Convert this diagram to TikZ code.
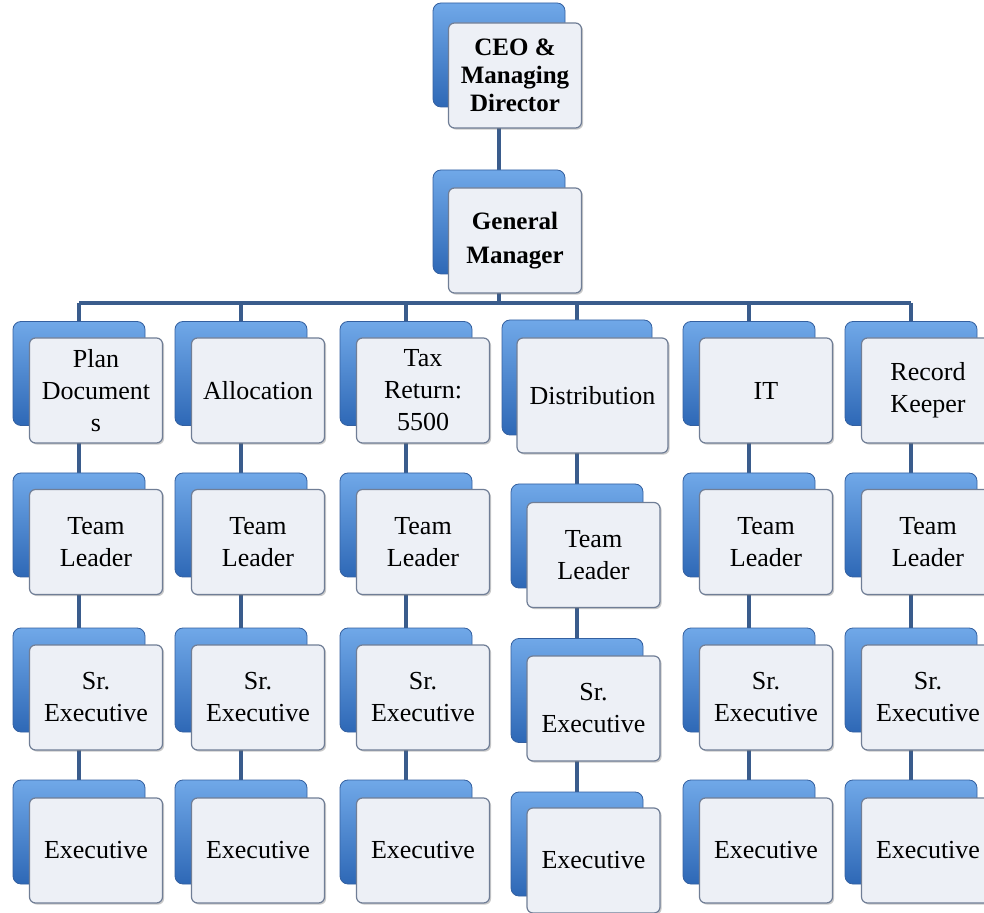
\documentclass[tikz,border=0pt]{standalone}
\usepackage{fontspec}
\setmainfont{Liberation Serif}
\usetikzlibrary{backgrounds,shadows}
\definecolor{boxtop}{RGB}{112,168,232}
\definecolor{boxbot}{RGB}{46,104,182}
\definecolor{boxedge}{RGB}{52,96,160}
\definecolor{cardfill}{RGB}{237,240,246}
\definecolor{cardedge}{RGB}{112,126,150}
\definecolor{linkblue}{RGB}{58,92,140}
\begin{document}
\begin{tikzpicture}[x=0.5pt,y=-0.5pt,
  back/.style={draw=boxedge,line width=0.4pt,top color=boxtop,bottom color=boxbot,
    rounded corners=4pt,minimum width=66pt,minimum height=52pt,inner sep=0pt},
  card/.style={draw=cardedge,line width=0.6pt,fill=cardfill,rounded corners=3pt,
    minimum width=66.5pt,minimum height=52.5pt,inner sep=0pt,align=center,
    font=\fontsize{13}{16}\selectfont,
    drop shadow={shadow xshift=0.8pt,shadow yshift=-0.8pt,opacity=0.35,fill=black!60}},
  boss/.style={font=\bfseries\fontsize{12.5}{14}\selectfont},
  link/.style={draw=linkblue,line width=1.7pt}]
\useasboundingbox (0,0) rectangle (984,913);
% top of the chart
\node[back] (ceob) at (499,55) {};
\node[card,boss] (ceo) at (515,75.5) {CEO \&\\Managing\\Director};
\node[back] (gmb) at (499,222) {};
\node[card,boss,font=\bfseries\fontsize{12.5}{17}\selectfont] (gm) at (515,240.5) {General\\Manager};
% departments
\foreach \c/\x/\t in {plan/79/{Plan\\Document\\s},alloc/241/{Allocation},tax/406/{Tax\\Return:\\5500},it/749/{IT},rec/911/{Record\\Keeper}} {
  \node[back] (\c1b) at (\x,373.5) {};
  \node[card] (\c1) at (\x+17,390.5) {\t};
  \node[back] (\c2b) at (\x,525) {};
  \node[card] (\c2) at (\x+17,542) {Team\\Leader};
  \node[back] (\c3b) at (\x,680) {};
  \node[card] (\c3) at (\x+17,697.5) {Sr.\\Executive};
  \node[back] (\c4b) at (\x,832) {};
  \node[card] (\c4) at (\x+17,850.5) {Executive};
}
\node[back,minimum width=75pt,minimum height=57.5pt] (dist1b) at (577,377.5) {};
\node[card,minimum width=75.5pt,minimum height=57.5pt] (dist1) at (592.5,395.5) {Distribution};
\node[back] (dist2b) at (577,536) {};
\node[card] (dist2) at (593.5,555) {Team\\Leader};
\node[back] (dist3b) at (577,690.5) {};
\node[card] (dist3) at (593.5,708.5) {Sr.\\Executive};
\node[back] (dist4b) at (577,844) {};
\node[card] (dist4) at (593.5,860.5) {Executive};
% lines
\begin{scope}[on background layer]
\fill[white] (0,0) rectangle (984,913);
\coordinate (bus) at (0,303);
\draw[link] (ceob.center) -- (gmb.center);
\draw[link,line width=2.2pt] (gmb.center) -- (gmb.center |- bus);
\draw[link,line width=2.2pt] (plan1b.center |- bus) -- (rec1b.center |- bus);
\foreach \c in {plan,alloc,tax,dist,it,rec} {
  \draw[link] (\c1b.center |- bus) -- (\c1b.center) -- (\c2b.center) -- (\c3b.center) -- (\c4b.center);
}
\end{scope}
\end{tikzpicture}
\end{document}
